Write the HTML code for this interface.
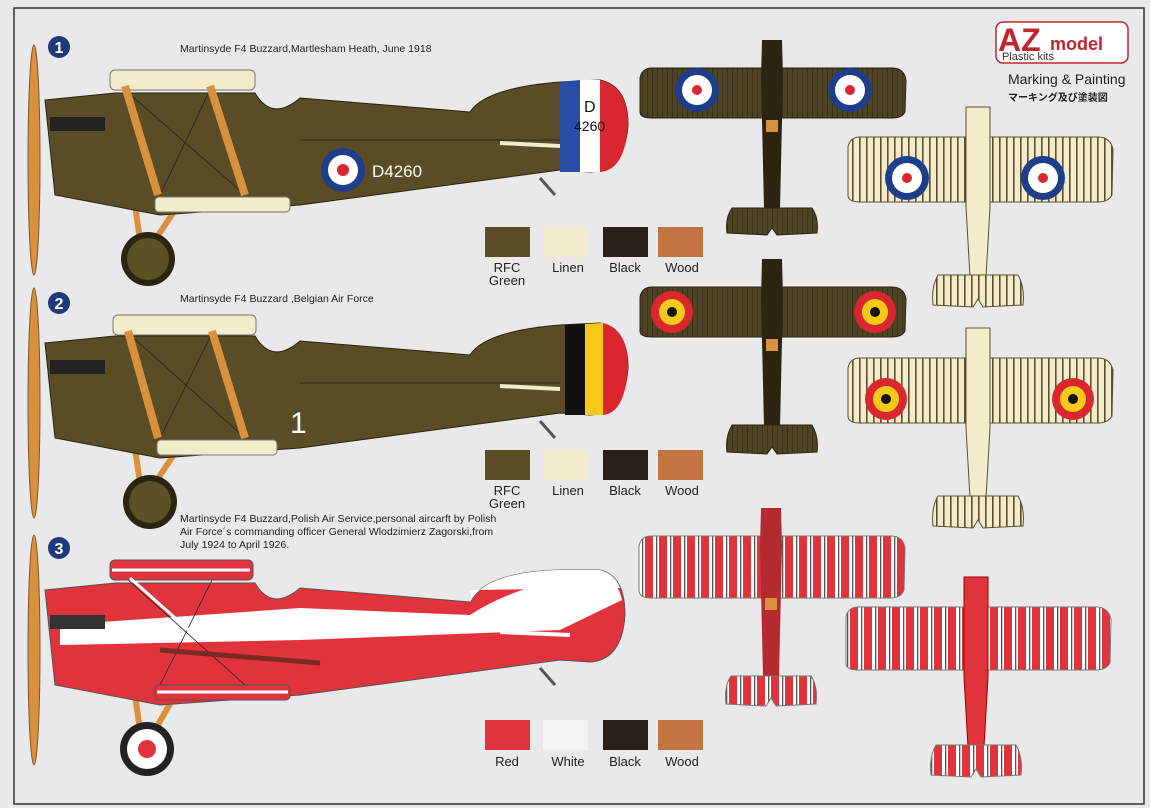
<!DOCTYPE html>
<html><head><meta charset="utf-8"><style>
body{margin:0;background:#e9e9eb;}
svg{display:block;font-family:"Liberation Sans","Noto Sans CJK JP",sans-serif;}
</style></head><body>
<svg width="1150" height="808" viewBox="0 0 1150 808" xmlns="http://www.w3.org/2000/svg">
<defs>
<pattern id="pg" width="5" height="10" patternUnits="userSpaceOnUse"><rect width="5" height="10" fill="#4e4423"/><rect width="1" height="10" fill="#3a321a"/></pattern>
<pattern id="pl" width="7" height="10" patternUnits="userSpaceOnUse"><rect width="7" height="10" fill="#f3eccb"/><rect width="1.6" height="10" fill="#5a5030"/></pattern>
<pattern id="pr" width="14" height="10" patternUnits="userSpaceOnUse"><rect width="14" height="10" fill="#fff"/><rect width="8" height="10" fill="#e1333c"/><rect x="11" width="1.3" height="10" fill="#555"/></pattern>
</defs>
<rect x="0" y="0" width="1150" height="808" fill="#e9e9eb"/>
<rect x="14" y="8" width="1130" height="796" fill="none" stroke="#333" stroke-width="1.5"/>

<!-- logo -->
<rect x="996" y="22" width="132" height="41" rx="7" fill="#fff" stroke="#c0272d" stroke-width="1.5"/>
<text x="998" y="51" font-size="32" font-weight="bold" fill="#c0272d">AZ</text>
<text x="1050" y="50" font-size="18" font-weight="bold" fill="#c0272d">model</text>
<text x="1002" y="60" font-size="11" fill="#333">Plastic kits</text>
<text x="1008" y="84" font-size="14" fill="#222">Marking &amp; Painting</text>
<text x="1008" y="101" font-size="10" font-weight="bold" fill="#222">マーキング及び塗装図</text>

<!-- numbers & captions -->
<circle cx="59" cy="47" r="11" fill="#1f3a7a"/><text x="59" y="53" font-size="16" font-weight="bold" fill="#fff" text-anchor="middle">1</text>
<circle cx="59" cy="303" r="11" fill="#1f3a7a"/><text x="59" y="309" font-size="16" font-weight="bold" fill="#fff" text-anchor="middle">2</text>
<circle cx="59" cy="548" r="11" fill="#1f3a7a"/><text x="59" y="554" font-size="16" font-weight="bold" fill="#fff" text-anchor="middle">3</text>
<text x="180" y="52" font-size="10.5" fill="#222">Martinsyde F4 Buzzard,Martlesham Heath, June 1918</text>
<text x="180" y="302" font-size="10.5" fill="#222">Martinsyde F4 Buzzard ,Belgian Air Force</text>
<text x="180" y="522" font-size="10.5" fill="#222">Martinsyde F4 Buzzard,Polish Air Service,personal aircarft by Polish</text>
<text x="180" y="535" font-size="10.5" fill="#222">Air Force´s commanding officer General Wlodzimierz Zagorski,from</text>
<text x="180" y="548" font-size="10.5" fill="#222">July 1924 to April 1926.</text>

<!-- SIDE VIEW 1 -->
<g>
<ellipse cx="34" cy="160" rx="6" ry="115" fill="#d8913f" stroke="#8a5520"/>
<line x1="135" y1="205" x2="140" y2="240" stroke="#d8913f" stroke-width="6"/>
<line x1="175" y1="210" x2="155" y2="240" stroke="#d8913f" stroke-width="6"/>
<circle cx="148" cy="259" r="27" fill="#2a2410"/><circle cx="148" cy="259" r="21" fill="#5b5026"/>
<path d="M45,100 L115,93 L255,93 Q272,122 300,98 L470,112 Q485,88 560,82 L600,80 Q628,86 628,125 Q625,170 590,172 L560,170 L300,205 L160,215 L55,195 Z" fill="#5a4d25" stroke="#2a2410"/>
<path d="M560,82 L580,80 L580,172 L560,172 Z" fill="#2a4ea8"/><path d="M580,80 L600,80 L600,172 L580,172Z" fill="#fff"/><path d="M600,80 Q628,86 628,125 Q625,170 600,172Z" fill="#d9262f"/>
<text x="584" y="112" font-size="16" fill="#111">D</text><text x="574" y="131" font-size="14" fill="#111">4260</text>
<rect x="50" y="117" width="55" height="14" fill="#222"/>
<g stroke="#222" stroke-width="0.8"><line x1="125" y1="90" x2="245" y2="195"/><line x1="210" y1="90" x2="160" y2="195"/><line x1="300" y1="140" x2="560" y2="140"/></g>
<rect x="110" y="70" width="145" height="20" rx="5" fill="#f3eccb" stroke="#777"/>
<rect x="155" y="197" width="135" height="15" rx="4" fill="#f3eccb" stroke="#777"/>
<line x1="125" y1="86" x2="158" y2="195" stroke="#d8913f" stroke-width="8"/>
<line x1="210" y1="86" x2="245" y2="195" stroke="#d8913f" stroke-width="8"/>
<circle cx="343" cy="170" r="22" fill="#1e3d8a"/><circle cx="343" cy="170" r="15" fill="#fff"/><circle cx="343" cy="170" r="6" fill="#d9262f"/>
<text x="372" y="177" font-size="17" fill="#fff">D4260</text>
<line x1="500" y1="143" x2="560" y2="146" stroke="#f3eccb" stroke-width="4"/>
<line x1="540" y1="178" x2="555" y2="195" stroke="#555" stroke-width="3"/>
</g>
<!-- SIDE VIEW 2 -->
<g transform="translate(0,243)">
<ellipse cx="34" cy="160" rx="6" ry="115" fill="#d8913f" stroke="#8a5520"/>
<line x1="135" y1="205" x2="140" y2="240" stroke="#d8913f" stroke-width="6"/>
<line x1="175" y1="210" x2="155" y2="240" stroke="#d8913f" stroke-width="6"/>
<circle cx="150" cy="259" r="27" fill="#2a2410"/><circle cx="150" cy="259" r="21" fill="#5b5026"/>
<path d="M45,100 L115,93 L255,93 Q272,122 300,98 L470,112 Q485,88 560,82 L600,80 Q628,86 628,125 Q625,170 590,172 L560,170 L300,205 L160,215 L55,195 Z" fill="#5a4d25" stroke="#2a2410"/>
<path d="M565,82 L585,81 L585,172 L565,172 Z" fill="#111"/><path d="M585,81 L603,80 L603,172 L585,172Z" fill="#f4c91a"/><path d="M603,80 Q628,86 628,125 Q625,170 603,172Z" fill="#d9262f"/>
<rect x="50" y="117" width="55" height="14" fill="#222"/>
<g stroke="#222" stroke-width="0.8"><line x1="128" y1="90" x2="245" y2="195"/><line x1="212" y1="90" x2="160" y2="195"/><line x1="300" y1="140" x2="560" y2="140"/></g>
<rect x="113" y="72" width="143" height="20" rx="5" fill="#f3eccb" stroke="#777"/>
<rect x="157" y="197" width="120" height="15" rx="4" fill="#f3eccb" stroke="#777"/>
<line x1="128" y1="88" x2="158" y2="195" stroke="#d8913f" stroke-width="8"/>
<line x1="212" y1="88" x2="245" y2="195" stroke="#d8913f" stroke-width="8"/>
<text x="290" y="190" font-size="30" fill="#fff">1</text>
<line x1="500" y1="143" x2="560" y2="146" stroke="#f3eccb" stroke-width="4"/>
<line x1="540" y1="178" x2="555" y2="195" stroke="#555" stroke-width="3"/>
</g>
<!-- SIDE VIEW 3 -->
<g transform="translate(0,490)">
<ellipse cx="34" cy="160" rx="6" ry="115" fill="#d8913f" stroke="#8a5520"/>
<line x1="135" y1="205" x2="140" y2="240" stroke="#d8913f" stroke-width="6"/>
<line x1="175" y1="205" x2="155" y2="240" stroke="#d8913f" stroke-width="6"/>
<circle cx="147" cy="259" r="27" fill="#222"/><circle cx="147" cy="259" r="20" fill="#fff"/><circle cx="147" cy="259" r="9" fill="#e1333c"/>
<path d="M45,100 L115,93 L255,93 Q272,122 300,98 L470,112 Q485,82 560,80 L600,80 Q625,86 625,125 Q622,170 590,172 L560,170 L300,205 L160,215 L55,195 Z" fill="#e1333c" stroke="#555"/>
<path d="M300,118 L470,125 Q520,92 600,84 Q618,90 622,110 L560,140 L300,150 L60,155 L60,135 Z" fill="#fff"/>
<path d="M470,112 Q485,82 560,80 L600,80 Q615,84 620,98 L470,100 Z" fill="#fff"/>
<rect x="50" y="125" width="55" height="14" fill="#333"/>
<g stroke="#222" stroke-width="0.8"><line x1="128" y1="90" x2="245" y2="195"/><line x1="212" y1="90" x2="160" y2="195"/></g>
<rect x="110" y="70" width="143" height="20" rx="5" fill="#e1333c" stroke="#555"/>
<line x1="112" y1="80" x2="250" y2="80" stroke="#fff" stroke-width="3"/>
<rect x="155" y="195" width="135" height="15" rx="4" fill="#e1333c" stroke="#555"/>
<line x1="157" y1="202" x2="288" y2="202" stroke="#fff" stroke-width="3"/>
<line x1="130" y1="88" x2="200" y2="150" stroke="#fff" stroke-width="3"/>
<line x1="160" y1="160" x2="320" y2="173" stroke="#7a2a22" stroke-width="5"/>
<line x1="500" y1="142" x2="570" y2="145" stroke="#fff" stroke-width="4"/>
<line x1="540" y1="178" x2="555" y2="195" stroke="#555" stroke-width="3"/>
</g>

<!-- plane1 upper -->
<g transform="translate(772,68)">
<path d="M-132,10 Q-130,0 -120,0 L120,0 Q132,0 134,12 L133,44 Q130,50 120,50 L-120,50 Q-132,50 -132,44 Z" fill="url(#pg)" stroke="#2a2410"/>
<path d="M-10,-28 L10,-28 L11,10 L8,140 L-8,140 L-11,10Z" fill="#2a2410"/>
<rect x="-6" y="52" width="12" height="12" fill="#d8913f"/>
<path d="M-40,140 L40,140 Q47,150 45,165 L5,167 L0,160 L-5,167 L-45,165 Q-47,150 -40,140Z" fill="url(#pg)" stroke="#2a2410"/>
<circle cx="-75" cy="22" r="22" fill="#1e3d8a"/><circle cx="-75" cy="22" r="15" fill="#fff"/><circle cx="-75" cy="22" r="5" fill="#d9262f"/>
<circle cx="78" cy="22" r="22" fill="#1e3d8a"/><circle cx="78" cy="22" r="15" fill="#fff"/><circle cx="78" cy="22" r="5" fill="#d9262f"/>
</g>
<!-- plane1 under -->
<g transform="translate(978,137)">
<path d="M-130,10 Q-128,0 -118,0 L120,0 Q132,0 135,12 L134,58 Q130,65 120,65 L-118,65 Q-130,65 -130,58 Z" fill="url(#pl)" stroke="#5a5030"/>
<path d="M-12,-30 L12,-30 L12,70 L8,140 L-8,140 L-12,70Z" fill="#f3eccb" stroke="#5a5030"/>
<path d="M-40,138 L40,138 Q47,150 45,168 L5,170 L0,162 L-5,170 L-45,168 Q-47,150 -40,138Z" fill="url(#pl)" stroke="#5a5030"/>
<circle cx="-71" cy="41" r="22" fill="#1e3d8a"/><circle cx="-71" cy="41" r="15" fill="#fff"/><circle cx="-71" cy="41" r="5" fill="#d9262f"/>
<circle cx="65" cy="41" r="22" fill="#1e3d8a"/><circle cx="65" cy="41" r="15" fill="#fff"/><circle cx="65" cy="41" r="5" fill="#d9262f"/>
</g>
<!-- plane2 upper -->
<g transform="translate(772,287)">
<path d="M-132,10 Q-130,0 -120,0 L120,0 Q132,0 134,12 L133,44 Q130,50 120,50 L-120,50 Q-132,50 -132,44 Z" fill="url(#pg)" stroke="#2a2410"/>
<path d="M-10,-28 L10,-28 L11,10 L8,140 L-8,140 L-11,10Z" fill="#2a2410"/>
<rect x="-6" y="52" width="12" height="12" fill="#d8913f"/>
<path d="M-40,138 L40,138 Q47,150 45,165 L5,167 L0,160 L-5,167 L-45,165 Q-47,150 -40,138Z" fill="url(#pg)" stroke="#2a2410"/>
<circle cx="-100" cy="25" r="21" fill="#d9262f"/><circle cx="-100" cy="25" r="13" fill="#f4c91a"/><circle cx="-100" cy="25" r="5" fill="#111"/>
<circle cx="103" cy="25" r="21" fill="#d9262f"/><circle cx="103" cy="25" r="13" fill="#f4c91a"/><circle cx="103" cy="25" r="5" fill="#111"/>
</g>
<!-- plane2 under -->
<g transform="translate(978,358)">
<path d="M-130,10 Q-128,0 -118,0 L120,0 Q132,0 135,12 L134,58 Q130,65 120,65 L-118,65 Q-130,65 -130,58 Z" fill="url(#pl)" stroke="#5a5030"/>
<path d="M-12,-30 L12,-30 L12,70 L8,140 L-8,140 L-12,70Z" fill="#f3eccb" stroke="#5a5030"/>
<path d="M-40,138 L40,138 Q47,150 45,168 L5,170 L0,162 L-5,170 L-45,168 Q-47,150 -40,138Z" fill="url(#pl)" stroke="#5a5030"/>
<circle cx="-92" cy="41" r="21" fill="#d9262f"/><circle cx="-92" cy="41" r="13" fill="#f4c91a"/><circle cx="-92" cy="41" r="5" fill="#111"/>
<circle cx="95" cy="41" r="21" fill="#d9262f"/><circle cx="95" cy="41" r="13" fill="#f4c91a"/><circle cx="95" cy="41" r="5" fill="#111"/>
</g>
<!-- plane3 upper -->
<g transform="translate(771,536)">
<path d="M-132,10 Q-130,0 -120,0 L120,0 Q132,0 134,12 L133,54 Q130,62 120,62 L-120,62 Q-132,62 -132,54 Z" fill="url(#pr)" stroke="#777"/>
<path d="M-10,-28 L10,-28 L11,10 L8,140 L-8,140 L-11,10Z" fill="#b52a2f"/>
<rect x="-6" y="62" width="12" height="12" fill="#d8913f"/>
<path d="M-40,140 L40,140 Q47,150 45,168 L5,170 L0,162 L-5,170 L-45,168 Q-47,150 -40,140Z" fill="url(#pr)" stroke="#777"/>
</g>
<!-- plane3 under -->
<g transform="translate(976,607)">
<path d="M-130,10 Q-128,0 -118,0 L120,0 Q132,0 135,12 L134,56 Q130,63 120,63 L-118,63 Q-130,63 -130,56 Z" fill="url(#pr)" stroke="#777"/>
<path d="M-12,-30 L12,-30 L12,70 L8,140 L-8,140 L-12,70Z" fill="#e1333c" stroke="#900"/>
<path d="M-40,138 L40,138 Q47,150 45,168 L5,170 L0,162 L-5,170 L-45,168 Q-47,150 -40,138Z" fill="url(#pr)" stroke="#777"/>
</g>

<!-- swatches -->
<g font-size="13" fill="#222" text-anchor="middle">
<rect x="485" y="227" width="45" height="30" fill="#5a4d25"/><rect x="543" y="227" width="45" height="30" fill="#f3eccb"/><rect x="603" y="227" width="45" height="30" fill="#2b1f1a"/><rect x="658" y="227" width="45" height="30" fill="#c07440"/>
<text x="507" y="272">RFC</text><text x="507" y="285">Green</text><text x="568" y="272">Linen</text><text x="625" y="272">Black</text><text x="682" y="272">Wood</text>
<rect x="485" y="450" width="45" height="30" fill="#5a4d25"/><rect x="543" y="450" width="45" height="30" fill="#f3eccb"/><rect x="603" y="450" width="45" height="30" fill="#2b1f1a"/><rect x="658" y="450" width="45" height="30" fill="#c07440"/>
<text x="507" y="495">RFC</text><text x="507" y="508">Green</text><text x="568" y="495">Linen</text><text x="625" y="495">Black</text><text x="682" y="495">Wood</text>
<rect x="485" y="720" width="45" height="30" fill="#e1333c"/><rect x="543" y="720" width="45" height="30" fill="#f4f4f2"/><rect x="603" y="720" width="45" height="30" fill="#2b1f1a"/><rect x="658" y="720" width="45" height="30" fill="#c07440"/>
<text x="507" y="766">Red</text><text x="568" y="766">White</text><text x="625" y="766">Black</text><text x="682" y="766">Wood</text>
</g>
</svg>
</body></html>
